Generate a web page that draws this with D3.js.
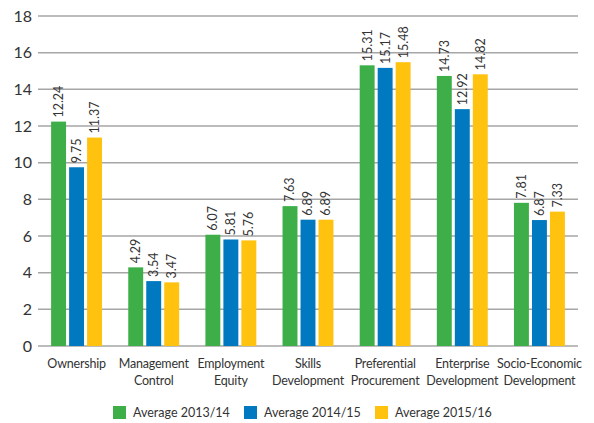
<!DOCTYPE html>
<html>
<head>
<meta charset="utf-8">
<script src="https://cdn.jsdelivr.net/npm/d3@7"></script>
<style>
  body { margin: 0; background: #fff; }
  svg { font-family: Lato, sans-serif; }
</style>
</head>
<body>
<svg id="chart" width="594" height="423"></svg>
<script>
// chart data
const categories = [
  ['Ownership'],
  ['Management', 'Control'],
  ['Employment', 'Equity'],
  ['Skills', 'Development'],
  ['Preferential', 'Procurement'],
  ['Enterprise', 'Development'],
  ['Socio-Economic', 'Development']
];
const seriesNames = ['Average 2013/14', 'Average 2014/15', 'Average 2015/16'];
const avg1314 = [12.24, 4.29, 6.07, 7.63, 15.31, 14.73, 7.81];
const avg1415 = [9.75, 3.54, 5.81, 6.89, 15.17, 12.92, 6.87];
const avg1516 = [11.37, 3.47, 5.76, 6.89, 15.48, 14.82, 7.33];
const yTicks = [0, 2, 4, 6, 8, 10, 12, 14, 16, 18];

const colors = ['#3eae49', '#0079c1', '#fec20f'];
const series = [avg1314, avg1415, avg1516];

const svg = d3.select('#chart');
const margin = {top: 16, right: 16, bottom: 77, left: 38};
const width = 594 - margin.left - margin.right,
      height = 423 - margin.top - margin.bottom;

const g = svg.append('g')
    .attr('transform', `translate(${margin.left},${margin.top})`);

const x0 = d3.scaleBand()
    .domain(d3.range(categories.length))
    .range([0, width])
    .paddingInner(0.34)
    .paddingOuter(0.17);

const x1 = d3.scaleBand()
    .domain(d3.range(series.length))
    .range([0, x0.bandwidth()])
    .paddingInner(0.17);

const y = d3.scaleLinear()
    .domain([0, 18])
    .range([height, 0]);

// gridlines + y labels
g.append('g')
  .selectAll('line')
  .data(yTicks)
  .join('line')
    .attr('x1', 0)
    .attr('x2', width)
    .attr('y1', d => y(d))
    .attr('y2', d => y(d))
    .attr('stroke', '#a6a6a6')
    .attr('stroke-width', 1.5);

g.append('g')
  .selectAll('text')
  .data(yTicks)
  .join('text')
    .attr('x', -6)
    .attr('y', d => y(d))
    .attr('dy', '0.36em')
    .attr('text-anchor', 'end')
    .attr('fill', '#333')
    .style('font-size', '16px')
    .text(d => d);

// bars
const groups = g.append('g')
  .selectAll('g')
  .data(categories)
  .join('g')
    .attr('transform', (d, i) => `translate(${x0(i)},0)`);

groups.selectAll('rect')
  .data((d, i) => series.map((s, k) => ({k, v: s[i]})))
  .join('rect')
    .attr('x', d => x1(d.k))
    .attr('y', d => y(d.v))
    .attr('width', x1.bandwidth())
    .attr('height', d => height - y(d.v))
    .attr('fill', d => colors[d.k]);

groups.selectAll('text.value')
  .data((d, i) => series.map((s, k) => ({k, v: s[i]})))
  .join('text')
    .attr('class', 'value')
    .attr('transform', d => `translate(${x1(d.k) + x1.bandwidth() / 2},${y(d.v) - 4}) rotate(-90)`)
    .attr('dy', '0.35em')
    .attr('fill', '#333')
    .style('font-size', '12.5px')
    .text(d => d3.format('.2f')(d.v));

// category labels
groups.append('text')
    .attr('transform', `translate(${x0.bandwidth() / 2},${height + 22})`)
    .attr('text-anchor', 'middle')
    .attr('fill', '#333')
    .style('font-size', '12.5px')
    .style('letter-spacing', '-0.2px')
  .selectAll('tspan')
  .data(d => d)
  .join('tspan')
    .attr('x', 0)
    .attr('dy', (d, i) => i ? 16.5 : 0)
    .text(d => d);

// legend
const legendX = d3.scalePoint()
    .domain(seriesNames)
    .range([113, 375]);

const legend = svg.append('g')
  .selectAll('g')
  .data(seriesNames)
  .join('g')
    .attr('transform', d => `translate(${legendX(d)},406)`);

legend.append('rect')
    .attr('width', 13)
    .attr('height', 13)
    .attr('fill', (d, i) => colors[i]);

legend.append('text')
    .attr('x', 20)
    .attr('y', 6.5)
    .attr('dy', '0.36em')
    .attr('fill', '#333')
    .style('font-size', '12.5px')
    .text(d => d);
</script>
</body>
</html>
